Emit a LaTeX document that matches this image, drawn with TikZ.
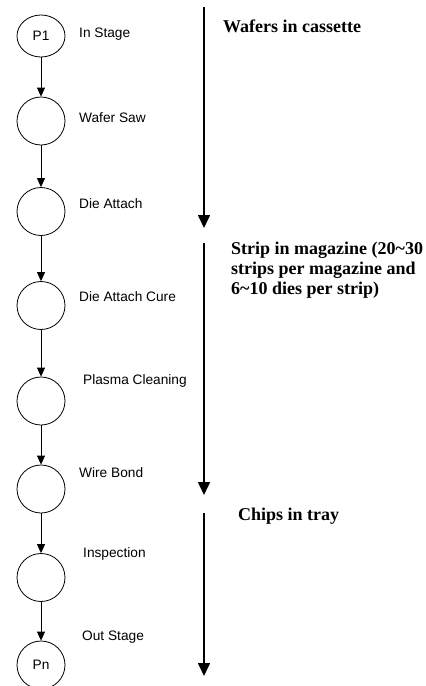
\documentclass[tikz,border=0pt]{standalone}
\usepackage{fontspec}
\setmainfont{Liberation Serif}
\newfontfamily\arialfont{Liberation Sans}
\usetikzlibrary{arrows.meta,shapes.geometric}

\begin{document}
\begin{tikzpicture}[x=1pt,y=-1pt,
  stage/.style={ellipse, draw, line width=0.8pt, minimum width=48pt, minimum height=48pt, inner sep=0pt, font=\arialfont\fontsize{13.7}{16}\selectfont},
  steplabel/.style={anchor=base west, inner sep=0pt, font=\arialfont\fontsize{13.7}{16}\selectfont},
  carrier/.style={anchor=base west, inner sep=0pt, align=left, font=\bfseries\fontsize{18}{20}\selectfont},
  flow/.style={-{Triangle[length=9pt,width=8pt]}, line width=0.8pt},
  phase/.style={-{Triangle[length=13pt,width=12pt]}, line width=1.6pt}]
\useasboundingbox (0,0) rectangle (426,686);
% process stages
\node[stage, minimum height=42pt] (p1) at (41,36) {P1};
\node[stage] (saw) at (41,121) {};
\node[stage] (da) at (41,211.5) {};
\node[stage] (dacure) at (41,305.5) {};
\node[stage] (plasma) at (41,401) {};
\node[stage] (wb) at (41,489) {};
\node[stage] (insp) at (41,577.5) {};
\node[stage] (pn) at (41,665) {Pn};
% stage names
\node[steplabel] (l1) at (79,37) {In Stage};
\node[steplabel] (l2) at (79,122) {Wafer Saw};
\node[steplabel] (l3) at (79,208) {Die Attach};
\node[steplabel] (l4) at (79,301) {Die Attach Cure};
\node[steplabel] (l5) at (83,384) {Plasma Cleaning};
\node[steplabel] (l6) at (79,477) {Wire Bond};
\node[steplabel] (l7) at (83,557) {Inspection};
\node[steplabel] (l8) at (82,640) {Out Stage};
\draw[flow] (p1) -- (saw);
\draw[flow] (saw) -- (da);
\draw[flow] (da) -- (dacure);
\draw[flow] (dacure) -- (plasma);
\draw[flow] (plasma) -- (wb);
\draw[flow] (wb) -- (insp);
\draw[flow] (insp) -- (pn);
% carriers
\coordinate (c1s) at (204,7);
\coordinate (c1e) at (204,228);
\coordinate (c2s) at (204,243);
\coordinate (c2e) at (204,495);
\coordinate (c3s) at (204,513);
\coordinate (c3e) at (204,676);
\draw[phase] (c1s) -- (c1e);
\draw[phase] (c2s) -- (c2e);
\draw[phase] (c3s) -- (c3e);
\node[carrier] (cassette) at (223,32) {Wafers in cassette};
\node[carrier] (magazine) at (231,294) {Strip in magazine (20\textasciitilde30\\strips per magazine and\\6\textasciitilde10 dies per strip)};
\node[carrier] (tray) at (238,520) {Chips in tray};
\end{tikzpicture}
\end{document}
